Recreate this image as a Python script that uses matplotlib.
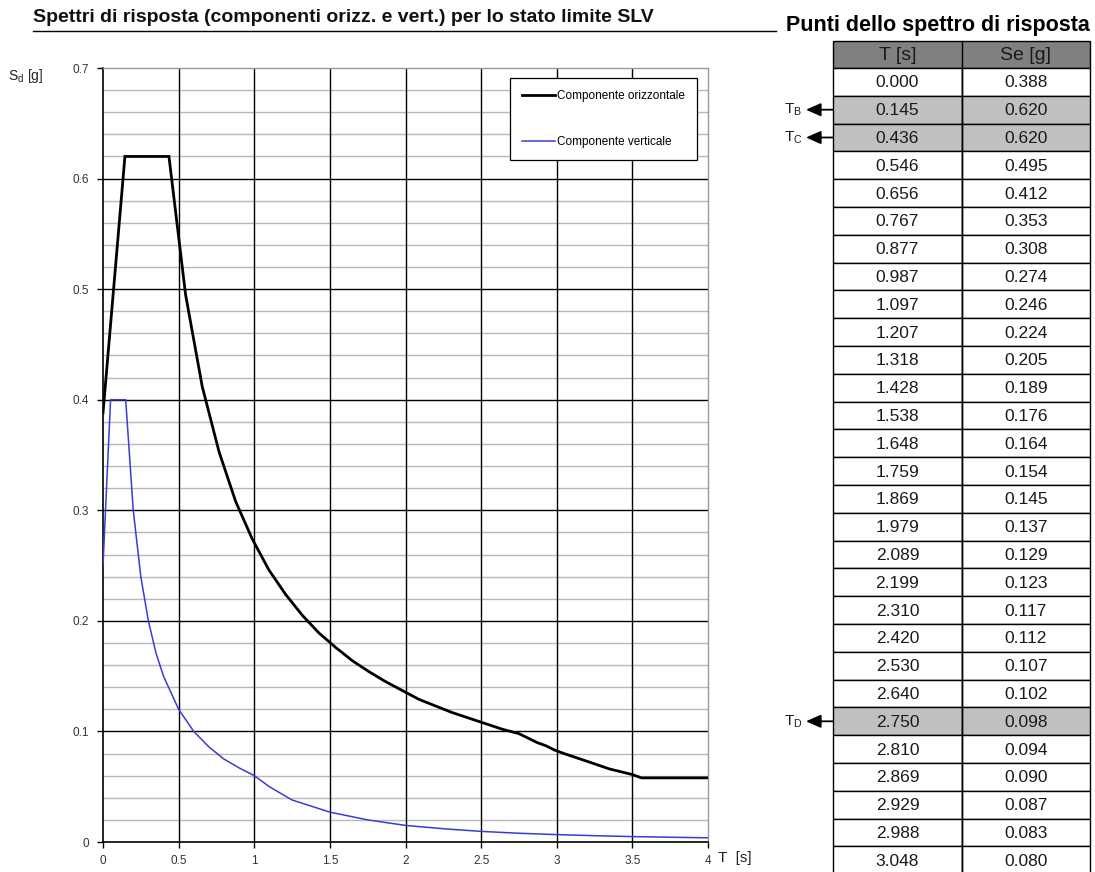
import matplotlib
matplotlib.use("Agg")
import matplotlib.pyplot as plt
from matplotlib.patches import Rectangle
import numpy as np

plt.rcParams['font.family'] = ['Liberation Sans', 'DejaVu Sans']

# ---------------- data ----------------
title = "Spettri di risposta (componenti orizz. e vert.) per lo stato limite SLV"
table_title = "Punti dello spettro di risposta"
col_headers = ["T [s]", "Se [g]"]

T_table = [0.000, 0.145, 0.436, 0.546, 0.656, 0.767, 0.877, 0.987, 1.097, 1.207,
           1.318, 1.428, 1.538, 1.648, 1.759, 1.869, 1.979, 2.089, 2.199, 2.310,
           2.420, 2.530, 2.640, 2.750, 2.810, 2.869, 2.929, 2.988, 3.048]
Se_table = [0.388, 0.620, 0.620, 0.495, 0.412, 0.353, 0.308, 0.274, 0.246, 0.224,
            0.205, 0.189, 0.176, 0.164, 0.154, 0.145, 0.137, 0.129, 0.123, 0.117,
            0.112, 0.107, 0.102, 0.098, 0.094, 0.090, 0.087, 0.083, 0.080]
marked_rows = {1: "B", 2: "C", 23: "D"}

# horizontal component beyond the visible table rows
T_h_tail = [3.20, 3.35, 3.50, 3.56, 4.00]
Se_h_tail = [0.073, 0.066, 0.061, 0.058, 0.058]

# vertical component
T_v = [0.0, 0.05, 0.15, 0.20, 0.25, 0.30, 0.35, 0.40, 0.50, 0.60, 0.70, 0.80, 0.90,
       1.00, 1.10, 1.25, 1.50, 1.75, 2.00, 2.25, 2.50, 2.75, 3.00, 3.25, 3.50, 3.75, 4.00]
Se_v = [0.250, 0.400, 0.400, 0.300, 0.240, 0.200, 0.171, 0.150, 0.120, 0.100, 0.086,
        0.075, 0.067, 0.060, 0.050, 0.038, 0.027, 0.020, 0.015, 0.012, 0.0096,
        0.0079, 0.0067, 0.0057, 0.0049, 0.0043, 0.0038]

x_ticks = [0, 0.5, 1, 1.5, 2, 2.5, 3, 3.5, 4]
x_ticklabels = ["0", "0.5", "1", "1.5", "2", "2.5", "3", "3.5", "4"]
y_ticks = [0, 0.1, 0.2, 0.3, 0.4, 0.5, 0.6, 0.7]
y_ticklabels = ["0", "0.1", "0.2", "0.3", "0.4", "0.5", "0.6", "0.7"]
series_labels = ["Componente orizzontale", "Componente verticale"]

# ---------------- figure ----------------
W, H = 1095, 872
fig = plt.figure(figsize=(W / 100, H / 100), dpi=100)

# overlay axes in pixel coordinates for the texts/table
ov = fig.add_axes([0, 0, 1, 1])
ov.set_xlim(0, W)
ov.set_ylim(H, 0)
ov.axis('off')

# chart axes
x0, x1, yt, yb = 103, 708, 68, 842
ax = fig.add_axes([x0 / W, (H - yb) / H, (x1 - x0) / W, (yb - yt) / H])
ax.set_xlim(0, 4)
ax.set_ylim(0, 0.7)

# grid
for yv in np.arange(0.02, 0.7, 0.02):
    if abs(yv * 10 - round(yv * 10)) > 1e-6:
        ax.axhline(yv, color='#b8b8b8', lw=1.0, zorder=1)
for yv in y_ticks[1:-1]:
    ax.axhline(yv, color='black', lw=1.0, zorder=1.5)
for xv in x_ticks[1:-1]:
    ax.axvline(xv, color='black', lw=1.0, zorder=1.5)

T_h = T_table + T_h_tail
Se_h = Se_table + Se_h_tail
ax.plot(T_h, Se_h, color='black', lw=2.0, label=series_labels[0], zorder=3,
        solid_joinstyle='miter')
ax.plot(T_v, Se_v, color='#3b3bd6', lw=1.1, label=series_labels[1], zorder=3)

ax.set_xticks(x_ticks)
ax.set_xticklabels(x_ticklabels)
ax.set_yticks(y_ticks)
ax.set_yticklabels(y_ticklabels)
ax.tick_params(axis='both', labelsize=8.5, colors='black', labelcolor='#333333',
               length=4, width=1, direction='out')
ax.tick_params(axis='y', pad=6)
ax.tick_params(axis='x', pad=5)
for s in ['left', 'bottom']:
    ax.spines[s].set_color('black')
    ax.spines[s].set_linewidth(1.2)
for s in ['top', 'right']:
    ax.spines[s].set_color('#9a9a9a')
    ax.spines[s].set_linewidth(1.0)

leg = ax.legend(loc='upper right', bbox_to_anchor=((697 - x0) / (x1 - x0), (yb - 78) / (yb - yt)),
                fontsize=8.5, frameon=True, fancybox=False, edgecolor='black',
                framealpha=1, handlelength=2.8, handletextpad=0.2,
                labelspacing=2.9, borderpad=1.0, borderaxespad=0)
leg.get_frame().set_linewidth(0.9)

# axis labels
ov.text(8, 76, r"S$_\mathregular{d}$ [g]", fontsize=10, ha='left', va='center', color='#222222')
ov.text(718, 858, "T  [s]", fontsize=11, ha='left', va='center', color='#222222')

# title with underline
ov.text(33, 18, title, fontsize=14, fontweight='bold', ha='left', va='center', color='#111111')
ov.plot([33, 776], [31, 31], color='black', lw=1.0)

# ---------------- table ----------------
ov.text(1090, 25, table_title, fontsize=15.5, fontweight='bold', ha='right', va='center', color='black')
cx = [833, 962, 1090]
row_h = 27.8
hdr_top = 41
hdr_bot = 68
ov.add_patch(Rectangle((cx[0], hdr_top), cx[2] - cx[0], hdr_bot - hdr_top,
                       facecolor='#808080', edgecolor='black', lw=1.0))
for j, h in enumerate(col_headers):
    ov.text((cx[j] + cx[j + 1]) / 2, (hdr_top + hdr_bot) / 2 + 1, h, fontsize=14,
            ha='center', va='center', color='#1a1a1a')
for i, (t, s) in enumerate(zip(T_table, Se_table)):
    top = hdr_bot + i * row_h
    fc = '#c0c0c0' if i in marked_rows else 'white'
    for j, val in enumerate([t, s]):
        ov.add_patch(Rectangle((cx[j], top), cx[j + 1] - cx[j], row_h,
                               facecolor=fc, edgecolor='black', lw=1.0))
        ov.text((cx[j] + cx[j + 1]) / 2, top + row_h / 2 + 1, f"{val:.3f}", fontsize=12.5,
                ha='center', va='center', color='#1a1a1a')
    if i in marked_rows:
        yc = top + row_h / 2
        ov.annotate("", xy=(806, yc), xytext=(833, yc),
                    arrowprops=dict(arrowstyle='-|>,head_length=0.9,head_width=0.4',
                                    color='black', lw=1.3, shrinkA=0, shrinkB=0))
        ov.text(784, yc, r"T$_\mathregular{" + marked_rows[i] + "}$", fontsize=11,
                ha='left', va='center', color='#1a1a1a')
ov.plot([cx[1], cx[1]], [hdr_top, H], color='black', lw=1.0)

fig.savefig("out.png", dpi=100)
